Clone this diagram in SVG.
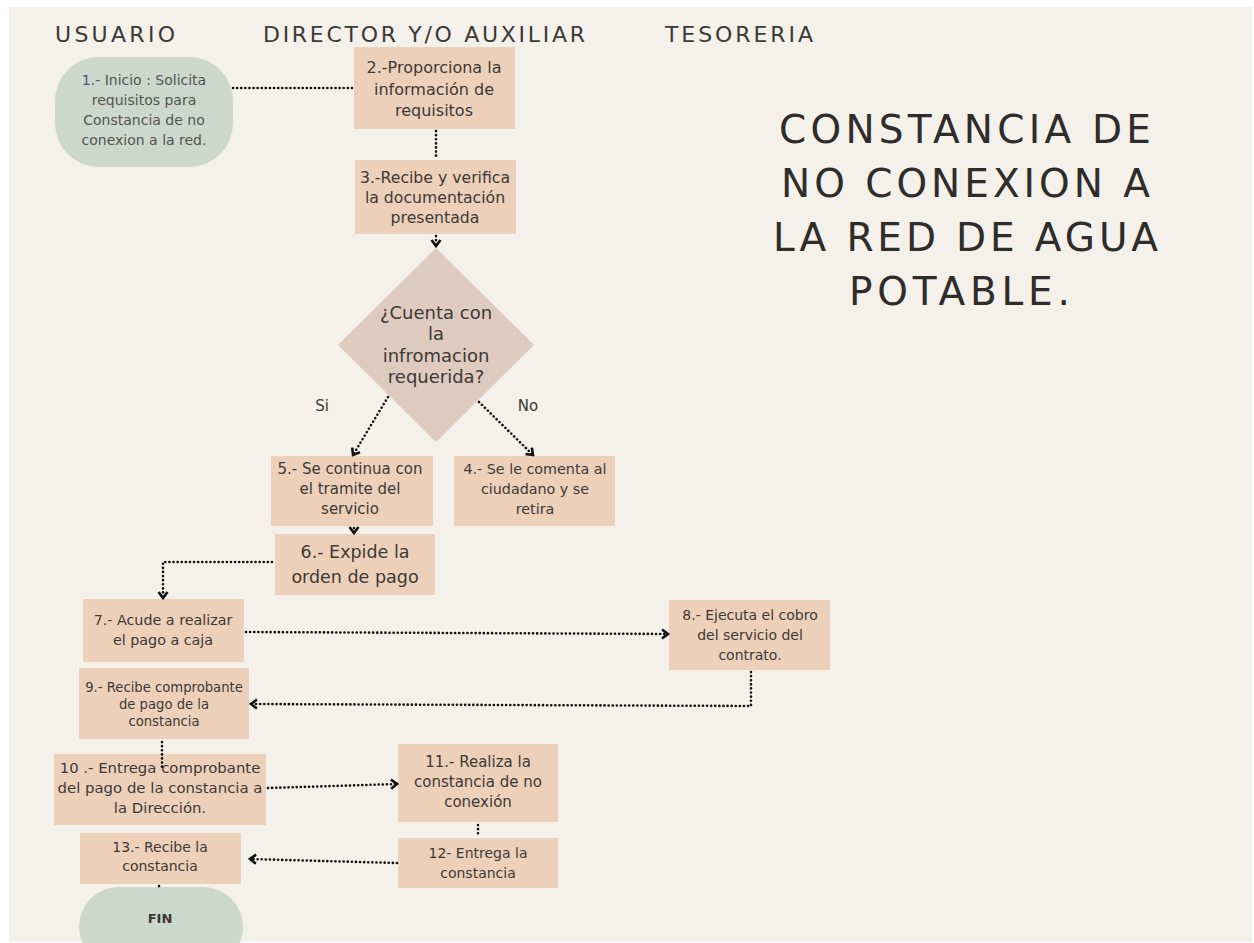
<svg xmlns="http://www.w3.org/2000/svg" width="1254" height="943" viewBox="0 0 1254 943">
<defs>
<style>
.bg{fill:#f4f0ea}
.box{fill:#edd0b9}
.pill{fill:#ccd7ce}
.dia{fill:#dfcac0}
.t{font-family:"DejaVu Sans","Noto Sans",sans-serif;fill:#3d3936;text-anchor:middle}
.g{fill:#55534f}
.hd{font-family:"DejaVu Sans","Noto Sans",sans-serif;fill:#3d3936;font-size:22px}
.ti{font-family:"DejaVu Sans","Noto Sans",sans-serif;fill:#2f2c2a;font-size:39px}
.c{fill:none;stroke:#111;stroke-width:2.6;stroke-dasharray:0.1 4;stroke-linecap:round}
</style>
<marker id="ar" markerUnits="userSpaceOnUse" viewBox="0 0 10 12" refX="8" refY="6" markerWidth="10" markerHeight="12" orient="auto">
<path d="M2,1.5 L8,6 L2,10.5" fill="none" stroke="#111" stroke-width="2.6" stroke-linejoin="miter"/>
</marker>
</defs>
<rect width="1254" height="943" fill="#ffffff"/>
<rect class="bg" x="9" y="7" width="1243" height="935"/>

<g id="headers">
<text class="hd" x="55" y="42" textLength="120" lengthAdjust="spacing">USUARIO</text>
<text class="hd" x="263" y="42" textLength="322" lengthAdjust="spacing">DIRECTOR Y/O AUXILIAR</text>
<text class="hd" x="665" y="42" textLength="148" lengthAdjust="spacing">TESORERIA</text>
</g>
<g id="title">
<text class="ti" x="779" y="143" textLength="372" lengthAdjust="spacing">CONSTANCIA DE</text>
<text class="ti" x="781" y="197" textLength="369" lengthAdjust="spacing">NO CONEXION A</text>
<text class="ti" x="773" y="251" textLength="385" lengthAdjust="spacing">LA RED DE AGUA</text>
<text class="ti" x="849" y="305" textLength="221" lengthAdjust="spacing">POTABLE.</text>
</g>

<g id="n1">
<rect class="pill" x="55" y="57" width="178" height="110" rx="44"/>
<text class="t g" font-size="14"><tspan x="144" y="85">1.- Inicio : Solicita</tspan><tspan x="144" y="105">requisitos para</tspan><tspan x="144" y="125">Constancia de no</tspan><tspan x="144" y="145">conexion a la red.</tspan></text>
</g>
<g id="n2">
<rect class="box" x="354" y="47" width="161" height="82"/>
<text class="t" font-size="16"><tspan x="434" y="73">2.-Proporciona la</tspan><tspan x="434" y="95">información de</tspan><tspan x="434" y="116">requisitos</tspan></text>
</g>
<g id="n3">
<rect class="box" x="355" y="160" width="161" height="74"/>
<text class="t" font-size="15.7"><tspan x="435" y="183">3.-Recibe y verifica</tspan><tspan x="435" y="203">la documentación</tspan><tspan x="435" y="223">presentada</tspan></text>
</g>
<g id="decision">
<polygon class="dia" points="436,248 534,345 436,442 338,345"/>
<text class="t" font-size="18"><tspan x="436" y="319">¿Cuenta con</tspan><tspan x="436" y="340">la</tspan><tspan x="436" y="362">infromacion</tspan><tspan x="436" y="383">requerida?</tspan></text>
</g>
<g id="labels">
<text class="t" font-size="15" x="322" y="411">Si</text>
<text class="t" font-size="15" x="528" y="411">No</text>
</g>
<g id="n5">
<rect class="box" x="271" y="456" width="162" height="70"/>
<text class="t" font-size="15"><tspan x="350" y="474">5.- Se continua con</tspan><tspan x="350" y="494">el tramite del</tspan><tspan x="350" y="514">servicio</tspan></text>
</g>
<g id="n4">
<rect class="box" x="454" y="456" width="161" height="70"/>
<text class="t" font-size="14.3"><tspan x="535" y="474">4.- Se le comenta al</tspan><tspan x="535" y="494">ciudadano y se</tspan><tspan x="535" y="514">retira</tspan></text>
</g>
<g id="n6">
<rect class="box" x="275" y="534" width="160" height="61"/>
<text class="t" font-size="17.5"><tspan x="355" y="558">6.- Expide la</tspan><tspan x="355" y="583">orden de pago</tspan></text>
</g>
<g id="n7">
<rect class="box" x="83" y="599" width="161" height="63"/>
<text class="t" font-size="14.3"><tspan x="163" y="625">7.- Acude a realizar</tspan><tspan x="163" y="645">el pago a caja</tspan></text>
</g>
<g id="n8">
<rect class="box" x="669" y="600" width="161" height="70"/>
<text class="t" font-size="14"><tspan x="750" y="620">8.- Ejecuta el cobro</tspan><tspan x="750" y="640">del servicio del</tspan><tspan x="750" y="660">contrato.</tspan></text>
</g>
<g id="n9">
<rect class="box" x="79" y="668" width="170" height="71"/>
<text class="t" font-size="13.2"><tspan x="164" y="692">9.- Recibe comprobante</tspan><tspan x="164" y="709">de pago de la</tspan><tspan x="164" y="726">constancia</tspan></text>
</g>
<g id="n10">
<rect class="box" x="54" y="754" width="212" height="71"/>
<text class="t" font-size="14.9"><tspan x="160" y="773">10 .- Entrega comprobante</tspan><tspan x="160" y="793">del pago de la constancia a</tspan><tspan x="160" y="813">la Dirección.</tspan></text>
</g>
<g id="n11">
<rect class="box" x="398" y="744" width="160" height="78"/>
<text class="t" font-size="15"><tspan x="478" y="767">11.- Realiza la</tspan><tspan x="478" y="787">constancia de no</tspan><tspan x="478" y="807">conexión</tspan></text>
</g>
<g id="n12">
<rect class="box" x="398" y="838" width="160" height="50"/>
<text class="t" font-size="14"><tspan x="478" y="858">12- Entrega la</tspan><tspan x="478" y="878">constancia</tspan></text>
</g>
<g id="n13">
<rect class="box" x="80" y="833" width="161" height="51"/>
<text class="t" font-size="14"><tspan x="160" y="852">13.- Recibe la</tspan><tspan x="160" y="871">constancia</tspan></text>
</g>
<g id="fin">
<rect class="pill" x="79" y="887" width="164" height="80" rx="40"/>
<text class="t" font-size="13" font-weight="bold" x="160" y="923">FIN</text>
</g>

<g id="connectors">
<line class="c" x1="233" y1="88" x2="354" y2="88"/>
<line class="c" x1="436" y1="131" x2="436" y2="158"/>
<line class="c" x1="436" y1="236" x2="436" y2="246" marker-end="url(#ar)"/>
<line class="c" x1="388" y1="397" x2="353" y2="455" marker-end="url(#ar)"/>
<line class="c" x1="479" y1="402" x2="533" y2="455" marker-end="url(#ar)"/>
<line class="c" x1="354" y1="528" x2="354" y2="533" marker-end="url(#ar)"/>
<polyline class="c" points="272,562 163,562 163,598" marker-end="url(#ar)"/>
<line class="c" x1="246" y1="632" x2="668" y2="634" marker-end="url(#ar)"/>
<polyline class="c" points="751,672 751,706 251,704" marker-end="url(#ar)"/>
<line class="c" x1="162" y1="742" x2="162" y2="770"/>
<line class="c" x1="268" y1="788" x2="397" y2="784" marker-end="url(#ar)"/>
<line class="c" x1="478" y1="825" x2="478" y2="836"/>
<line class="c" x1="397" y1="863" x2="250" y2="859" marker-end="url(#ar)"/>
<line class="c" x1="159" y1="886" x2="159" y2="887"/>
</g>
</svg>
